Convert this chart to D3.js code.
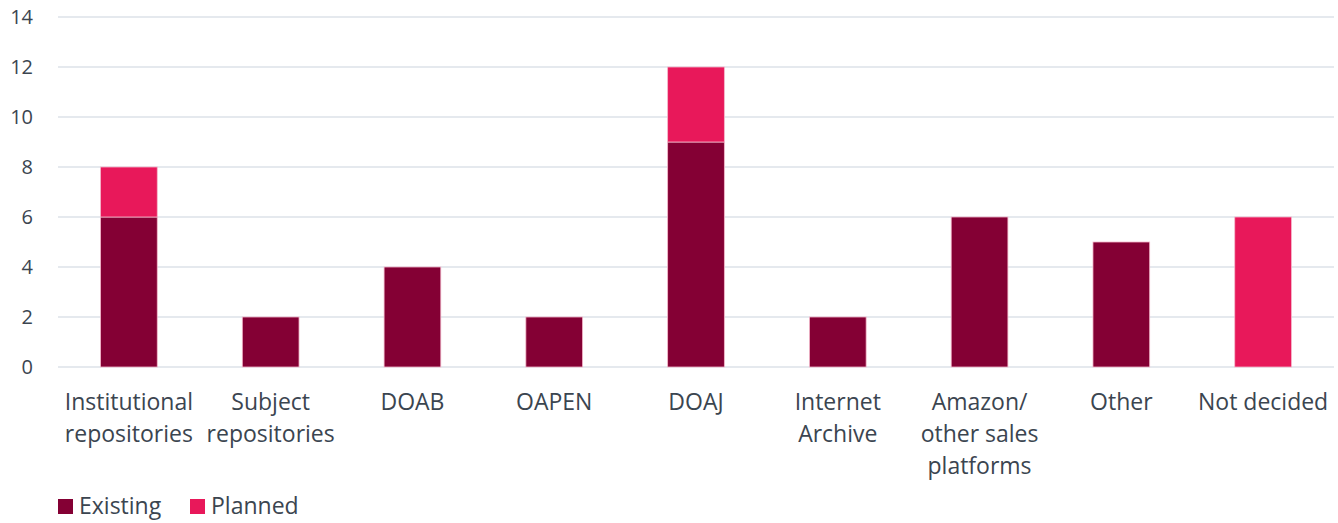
<!DOCTYPE html>
<html>
<head>
<meta charset="utf-8">
<script src="https://cdn.jsdelivr.net/npm/d3@7"></script>
<style>
  body { margin: 0; background: #fff; }
  svg text { font-family: "Open Sans", "Noto Sans", sans-serif; fill: #3b4550; }
</style>
</head>
<body>
<div id="chart"></div>
<script>
var categories = [
  ["Institutional", "repositories"],
  ["Subject", "repositories"],
  ["DOAB"],
  ["OAPEN"],
  ["DOAJ"],
  ["Internet", "Archive"],
  ["Amazon/", "other sales", "platforms"],
  ["Other"],
  ["Not decided"]
];
var existing = [6, 2, 4, 2, 9, 2, 6, 5, 0];
var planned = [2, 0, 0, 0, 3, 0, 0, 0, 6];
var yTicks = [0, 2, 4, 6, 8, 10, 12, 14];
var seriesNames = ["Existing", "Planned"];
var seriesColors = ["#840034", "#e8185a"];

var width = 1338, height = 523;
var margin = { top: 17, left: 58, right: 4, bottom: 156 };

var svg = d3.select("#chart").append("svg")
  .attr("width", width).attr("height", height);

var x = d3.scaleBand()
  .domain(d3.range(categories.length))
  .range([margin.left, width - margin.right])
  .paddingInner(0.6).paddingOuter(0.3);

var y = d3.scaleLinear().domain([0, 14]).range([height - margin.bottom, margin.top]);

// gridlines
svg.append("g").selectAll("line").data(yTicks).enter().append("line")
  .attr("x1", margin.left).attr("x2", width - margin.right)
  .attr("y1", function (d) { return y(d); }).attr("y2", function (d) { return y(d); })
  .attr("stroke", "#dde2e8").attr("stroke-width", 1.5);

svg.append("g").selectAll("text").data(yTicks).enter().append("text")
  .attr("x", 33).attr("y", function (d) { return y(d) + 7; })
  .attr("text-anchor", "end").attr("font-size", 20)
  .text(function (d) { return d; });

var rows = categories.map(function (c, i) {
  return { i: i, Existing: existing[i], Planned: planned[i] };
});
var stack = d3.stack().keys(seriesNames)(rows);

svg.append("g").selectAll("g").data(stack).enter().append("g")
  .attr("fill", function (d, i) { return seriesColors[i]; })
  .selectAll("rect").data(function (d) { return d.filter(function (p) { return p[1] > p[0]; }); })
  .enter().append("rect")
  .attr("x", function (d) { return x(d.data.i); })
  .attr("width", x.bandwidth())
  .attr("y", function (d) { return y(d[1]); })
  .attr("height", function (d) { return y(d[0]) - y(d[1]); })
  .attr("stroke", "#f4b8cb").attr("stroke-width", 0.8);

// category labels
var lab = svg.append("g").selectAll("text").data(categories).enter().append("text")
  .attr("text-anchor", "middle").attr("font-size", 23)
  .attr("x", function (d, i) { return x(i) + x.bandwidth() / 2; })
  .attr("y", 410);
lab.selectAll("tspan").data(function (d) { return d; }).enter().append("tspan")
  .attr("x", function () { return d3.select(this.parentNode).attr("x"); })
  .attr("dy", function (d, j) { return j === 0 ? 0 : 32; })
  .text(function (d) { return d; });

// legend
var legendX = [58, 190];
var leg = svg.append("g").selectAll("g").data(seriesNames).enter().append("g")
  .attr("transform", function (d, i) { return "translate(" + legendX[i] + ",499)"; });
leg.append("rect").attr("width", 15).attr("height", 15)
  .attr("fill", function (d, i) { return seriesColors[i]; });
leg.append("text").attr("x", 21).attr("y", 15).attr("font-size", 23)
  .text(function (d) { return d; });
</script>
</body>
</html>
